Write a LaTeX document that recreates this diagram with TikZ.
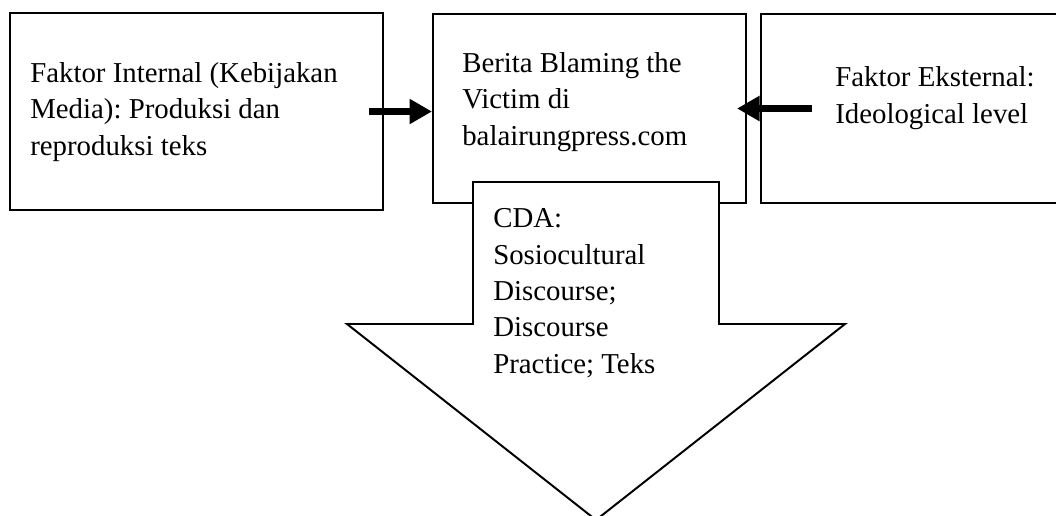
\documentclass[tikz,border=0pt]{standalone}
\usepackage{fontspec}
\setmainfont{Liberation Serif}
\usetikzlibrary{arrows.meta,positioning}
\frenchspacing

\begin{document}
\begin{tikzpicture}[x=0.025cm,y=-0.025cm,font=\fontsize{20.5}{25.8}\selectfont,
  kotak/.style={draw,line width=1.4pt,fill=white,inner sep=0pt,anchor=north west},
  isi/.style={anchor=base west,inner sep=0pt,align=left},
  panah/.style={line width=5.6pt,-{Triangle[width=17pt,length=16pt]}}]
\useasboundingbox (0,0) rectangle (1056,515);
\clip (0,0) rectangle (1056,515);
\node[kotak,minimum width=9.325cm,minimum height=4.925cm] (internal) at (9,12){};
\node[kotak,minimum width=7.825cm,minimum height=4.725cm] (berita) at (432,13){};
\node[kotak,minimum width=7.75cm,minimum height=4.725cm] (eksternal) at (760,13){};
\node[isi] (tinternal) at (30,155){Faktor Internal (Kebijakan\\Media): Produksi dan\\reproduksi teks};
\node[isi] (tberita) at (462,145){Berita Blaming the\\Victim di\\balairungpress.com};
\node[isi] (teksternal) at (835,123){Faktor Eksternal:\\Ideological level};
\draw[panah] ([xshift=-0.375cm]internal.east) -- (berita.west |- internal.east);
\draw[panah] ([xshift=1.3cm]eksternal.west) -- ([xshift=-0.25cm]berita.east);
% panah besar CDA
\draw[line width=1.4pt,fill=white,line join=miter] (473,182) -- (719,182) -- (719,324) -- (845,324)
  -- (596,520) -- (347,324) -- (473,324) -- cycle;
\node[isi] (cda) at (493,373){CDA:\\Sosiocultural\\Discourse;\\Discourse\\Practice; Teks};
\end{tikzpicture}
\end{document}
